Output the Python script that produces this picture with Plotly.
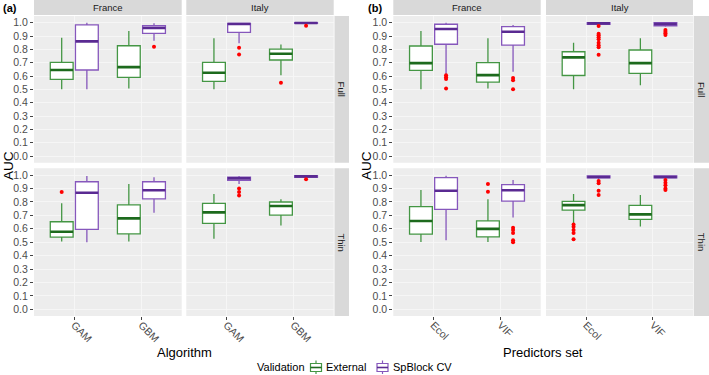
import plotly.graph_objects as go

# ---------------- data (long format) ----------------
box_panel = ["a"] * 16 + ["b"] * 16
box_row = (["Full"] * 8 + ["Thin"] * 8) * 2
box_country = (["France"] * 4 + ["Italy"] * 4) * 4
box_cat = ["GAM", "GAM", "GBM", "GBM"] * 4 + ["Ecol", "Ecol", "VIF", "VIF"] * 4
box_val = ["External", "SpBlock CV"] * 16

lower = [0.500, 0.500, 0.507, 0.865, 0.500, 0.845, 0.605, 0.990,
         0.505, 0.500, 0.505, 0.719, 0.525, 0.933, 0.624, 0.978,
         0.500, 0.614, 0.507, 0.632, 0.500, 0.985, 0.530, 0.970,
         0.502, 0.515, 0.502, 0.684, 0.640, 0.970, 0.617, 0.970]
q1 = [0.575, 0.645, 0.590, 0.920, 0.560, 0.927, 0.720, 0.995,
      0.537, 0.595, 0.562, 0.823, 0.640, 0.960, 0.701, 0.983,
      0.642, 0.838, 0.554, 0.832, 0.604, 0.988, 0.620, 0.977,
      0.560, 0.744, 0.540, 0.806, 0.739, 0.978, 0.669, 0.978]
median = [0.645, 0.860, 0.667, 0.960, 0.624, 0.990, 0.767, 0.998,
          0.577, 0.868, 0.677, 0.886, 0.722, 0.975, 0.769, 0.990,
          0.697, 0.953, 0.607, 0.932, 0.740, 0.995, 0.697, 0.990,
          0.657, 0.883, 0.599, 0.886, 0.776, 0.985, 0.707, 0.985]
q3 = [0.703, 0.983, 0.827, 0.977, 0.703, 0.995, 0.802, 1.000,
      0.652, 0.950, 0.778, 0.950, 0.789, 0.985, 0.799, 0.995,
      0.825, 0.988, 0.700, 0.970, 0.782, 1.000, 0.795, 1.000,
      0.764, 0.980, 0.659, 0.928, 0.804, 0.993, 0.774, 0.993]
upper = [0.887, 1.000, 0.937, 0.995, 0.883, 1.000, 0.837, 1.000,
         0.789, 0.993, 0.933, 0.983, 0.858, 0.993, 0.819, 0.998,
         0.937, 1.000, 0.883, 0.983, 0.850, 1.000, 0.883, 1.000,
         0.888, 0.995, 0.819, 0.963, 0.858, 0.998, 0.851, 0.998]

# outliers, one entry per box that has any
out_panel = ["a"] * 7 + ["b"] * 9
out_row = ["Full"] * 4 + ["Thin"] * 3 + ["Full"] * 4 + ["Thin"] * 5
out_country = ["France", "Italy", "Italy", "Italy", "France", "Italy", "Italy",
               "France", "France", "Italy", "Italy",
               "France", "France", "Italy", "Italy", "Italy"]
out_cat = ["GBM", "GAM", "GBM", "GBM", "GAM", "GAM", "GBM",
           "Ecol", "VIF", "Ecol", "VIF",
           "VIF", "VIF", "Ecol", "Ecol", "VIF"]
out_val = ["SpBlock CV", "SpBlock CV", "External", "SpBlock CV",
           "External", "SpBlock CV", "SpBlock CV",
           "SpBlock CV", "SpBlock CV", "SpBlock CV", "SpBlock CV",
           "External", "SpBlock CV", "External", "SpBlock CV", "SpBlock CV"]
out_y = [[0.820], [0.812, 0.762], [0.549], [0.977],
         [0.873], [0.900, 0.873, 0.848], [0.968],
         [0.605, 0.590, 0.577, 0.507], [0.586, 0.569, 0.500],
         [0.975, 0.917, 0.905, 0.890, 0.875, 0.850, 0.830, 0.815, 0.759],
         [0.945, 0.932, 0.920, 0.907],
         [0.933, 0.876], [0.607, 0.590, 0.569, 0.515, 0.500],
         [0.632, 0.614, 0.590, 0.569, 0.522],
         [0.955, 0.938, 0.883, 0.851],
         [0.963, 0.943, 0.923, 0.900, 0.888]]

y_ticks = [0.0, 0.1, 0.2, 0.3, 0.4, 0.5, 0.6, 0.7, 0.8, 0.9, 1.0]
cats = {"a": ["GAM", "GBM"], "b": ["Ecol", "VIF"]}
countries = ["France", "Italy"]
rows = ["Full", "Thin"]
x_titles = {"a": "Algorithm", "b": "Predictors set"}
validations = ["External", "SpBlock CV"]

# ---------------- styles ----------------
W, H = 709, 375
LINE = {"External": "#449644", "SpBlock CV": "#8657BC"}
MED = {"External": "#1D6A1D", "SpBlock CV": "#5A2A92"}
DODGE = 0.75
BOXW = 0.34
PANEL_BG = "#EDEDED"
GRID = "#F7F7F7"
STRIP = "#D9D9D9"
TXT = "#4D4D4D"
FONT = "Liberation Sans, Arial"

xdom = {("a", "France"): (34, 181.7), ("a", "Italy"): (186.3, 333.7),
        ("b", "France"): (393.3, 540.7), ("b", "Italy"): (546, 693)}
ydom = {"Full": (16, 162.7), "Thin": (168.3, 316)}
rstrip = {"a": (334.5, 349), "b": (693.7, 709)}


def px2x(p):
    return p / W


def px2y(p):
    return 1 - p / H


fig = go.Figure()
layout = {}
shapes = []
annotations = []

axis_id = {}
k = 0
for pan in ["a", "b"]:
    for r in rows:
        for c in countries:
            k += 1
            axis_id[(pan, r, c)] = k


def suffix(pan, r, c):
    k = axis_id[(pan, r, c)]
    return "" if k == 1 else str(k)


for (pan, r, c), k in axis_id.items():
    xs = suffix(pan, r, c)
    x0, x1 = xdom[(pan, c)]
    y0, y1 = ydom[r]
    show_x = r == "Thin"
    show_y = c == "France"
    layout["xaxis" + xs] = dict(
        domain=[px2x(x0), px2x(x1)], anchor="y" + xs, range=[0.4, 2.6],
        tickvals=[1, 2], ticktext=cats[pan], showticklabels=show_x,
        tickangle=45, ticks="outside" if show_x else "", ticklen=3, tickcolor="#444444",
        tickwidth=1, ticklabelstandoff=-5,
        tickfont=dict(family=FONT, size=10.5, color=TXT),
        showgrid=True, gridcolor=GRID, gridwidth=0.8, zeroline=False,
        showline=False, fixedrange=True)
    layout["yaxis" + xs] = dict(
        domain=[px2y(y1), px2y(y0)], anchor="x" + xs, range=[-0.05, 1.05],
        tickvals=y_ticks, ticktext=[f"{v:.1f}" for v in y_ticks],
        showticklabels=show_y, ticks="outside" if show_y else "", ticklen=3,
        tickcolor="#444444", tickwidth=1,
        tickfont=dict(family=FONT, size=10.5, color=TXT),
        showgrid=True, gridcolor=GRID, gridwidth=0.8, zeroline=False,
        showline=False, fixedrange=True)
    shapes.append(dict(type="rect", xref="x" + xs + " domain", yref="y" + xs + " domain",
                       x0=0, x1=1, y0=0, y1=1, fillcolor=PANEL_BG, line_width=0,
                       layer="below"))

# column strips
for (pan, c), (x0, x1) in xdom.items():
    shapes.append(dict(type="rect", xref="paper", yref="paper", x0=px2x(x0), x1=px2x(x1),
                       y0=px2y(15), y1=1.0, fillcolor=STRIP, line_width=0, layer="below"))
    annotations.append(dict(text=c, xref="paper", yref="paper", x=px2x((x0 + x1) / 2),
                            y=px2y(7.5), showarrow=False, xanchor="center", yanchor="middle",
                            font=dict(family=FONT, size=9.5, color="#1A1A1A")))
# row strips
for pan, (x0, x1) in rstrip.items():
    for r, (y0, y1) in ydom.items():
        shapes.append(dict(type="rect", xref="paper", yref="paper", x0=px2x(x0), x1=px2x(x1),
                           y0=px2y(y1), y1=px2y(y0), fillcolor=STRIP, line_width=0,
                           layer="below"))
        annotations.append(dict(text=r, xref="paper", yref="paper",
                                x=px2x((x0 + x1) / 2),
                                y=px2y((y0 + y1) / 2), showarrow=False, textangle=90,
                                xanchor="center", yanchor="middle", borderpad=0,
                                font=dict(family=FONT, size=9.5, color="#1A1A1A")))

# titles
for pan, xp in [("a", 8), ("b", 366)]:
    annotations.append(dict(text="AUC", xref="paper", yref="paper", x=px2x(xp), y=px2y(166),
                            showarrow=False, textangle=-90, xanchor="center", yanchor="middle",
                            borderpad=0,
                            font=dict(family=FONT, size=13.5, color="#000")))
for pan, xp in [("a", 184), ("b", 543)]:
    annotations.append(dict(text=x_titles[pan], xref="paper", yref="paper", x=px2x(xp),
                            y=px2y(352.5), showarrow=False, xanchor="center", yanchor="middle",
                            font=dict(family=FONT, size=13, color="#000")))
for lab, xp in [("(a)", 2), ("(b)", 367)]:
    annotations.append(dict(text="<b>" + lab + "</b>", xref="paper", yref="paper", x=px2x(xp),
                            y=px2y(7.5), showarrow=False, xanchor="left", yanchor="middle",
                            borderpad=0,
                            font=dict(family=FONT, size=11, color="#000")))

# ---------------- manual legend ----------------
LEG_Y = 367
annotations.append(dict(text="Validation", xref="paper", yref="paper", x=px2x(256),
                        y=px2y(LEG_Y), showarrow=False, xanchor="left", yanchor="middle",
                        borderpad=0, font=dict(family=FONT, size=11, color="#000")))
for v, kx, tx in [("External", 316, 325), ("SpBlock CV", 382.5, 392)]:
    shapes.append(dict(type="line", xref="paper", yref="paper", x0=px2x(kx), x1=px2x(kx),
                       y0=px2y(360.5), y1=px2y(374), line=dict(color=LINE[v], width=1.2)))
    shapes.append(dict(type="rect", xref="paper", yref="paper", x0=px2x(kx - 5.5),
                       x1=px2x(kx + 5.5), y0=px2y(363.5), y1=px2y(371.5),
                       fillcolor="white", line=dict(color=LINE[v], width=1.2)))
    shapes.append(dict(type="line", xref="paper", yref="paper", x0=px2x(kx - 5.5),
                       x1=px2x(kx + 5.5), y0=px2y(367.5), y1=px2y(367.5),
                       line=dict(color=MED[v], width=1.6)))
    annotations.append(dict(text=v, xref="paper", yref="paper", x=px2x(tx), y=px2y(LEG_Y),
                            showarrow=False, xanchor="left", yanchor="middle", borderpad=0,
                            font=dict(family=FONT, size=11, color="#000")))

# ---------------- boxes ----------------
for i in range(len(lower)):
    pan, r, c = box_panel[i], box_row[i], box_country[i]
    xs = suffix(pan, r, c)
    v = box_val[i]
    ci = cats[pan].index(box_cat[i]) + 1
    pos = ci + (-DODGE / 4 if v == "External" else DODGE / 4)
    fig.add_trace(go.Box(
        x=[pos], q1=[q1[i]], median=[median[i]], q3=[q3[i]],
        lowerfence=[lower[i]], upperfence=[upper[i]], width=BOXW,
        fillcolor="white", line=dict(color=LINE[v], width=1.3), whiskerwidth=0,
        name=v, showlegend=False, boxpoints=False, hoverinfo="skip",
        xaxis="x" + xs, yaxis="y" + xs))
    fig.add_trace(go.Scatter(
        x=[pos - BOXW / 2, pos + BOXW / 2], y=[median[i], median[i]], mode="lines",
        line=dict(color=MED[v], width=2.6), showlegend=False, hoverinfo="skip",
        xaxis="x" + xs, yaxis="y" + xs))

# ---------------- outliers ----------------
for i in range(len(out_y)):
    pan, r, c = out_panel[i], out_row[i], out_country[i]
    xs = suffix(pan, r, c)
    v = out_val[i]
    ci = cats[pan].index(out_cat[i]) + 1
    pos = ci + (-DODGE / 4 if v == "External" else DODGE / 4)
    fig.add_trace(go.Scatter(
        x=[pos] * len(out_y[i]), y=out_y[i], mode="markers",
        marker=dict(color="#FF0000", size=4, line_width=0),
        showlegend=False, hoverinfo="skip", xaxis="x" + xs, yaxis="y" + xs))

fig.update_layout(
    width=W, height=H, margin=dict(l=0, r=0, t=0, b=0),
    paper_bgcolor="white", plot_bgcolor="rgba(0,0,0,0)",
    boxmode="overlay", shapes=shapes, annotations=annotations, showlegend=False,
    hovermode=False, **layout)

fig.write_html("out.html", config={"displayModeBar": False, "staticPlot": True},
               post_script="document.body.style.margin='0';"
                           "document.body.style.overflow='hidden';")
